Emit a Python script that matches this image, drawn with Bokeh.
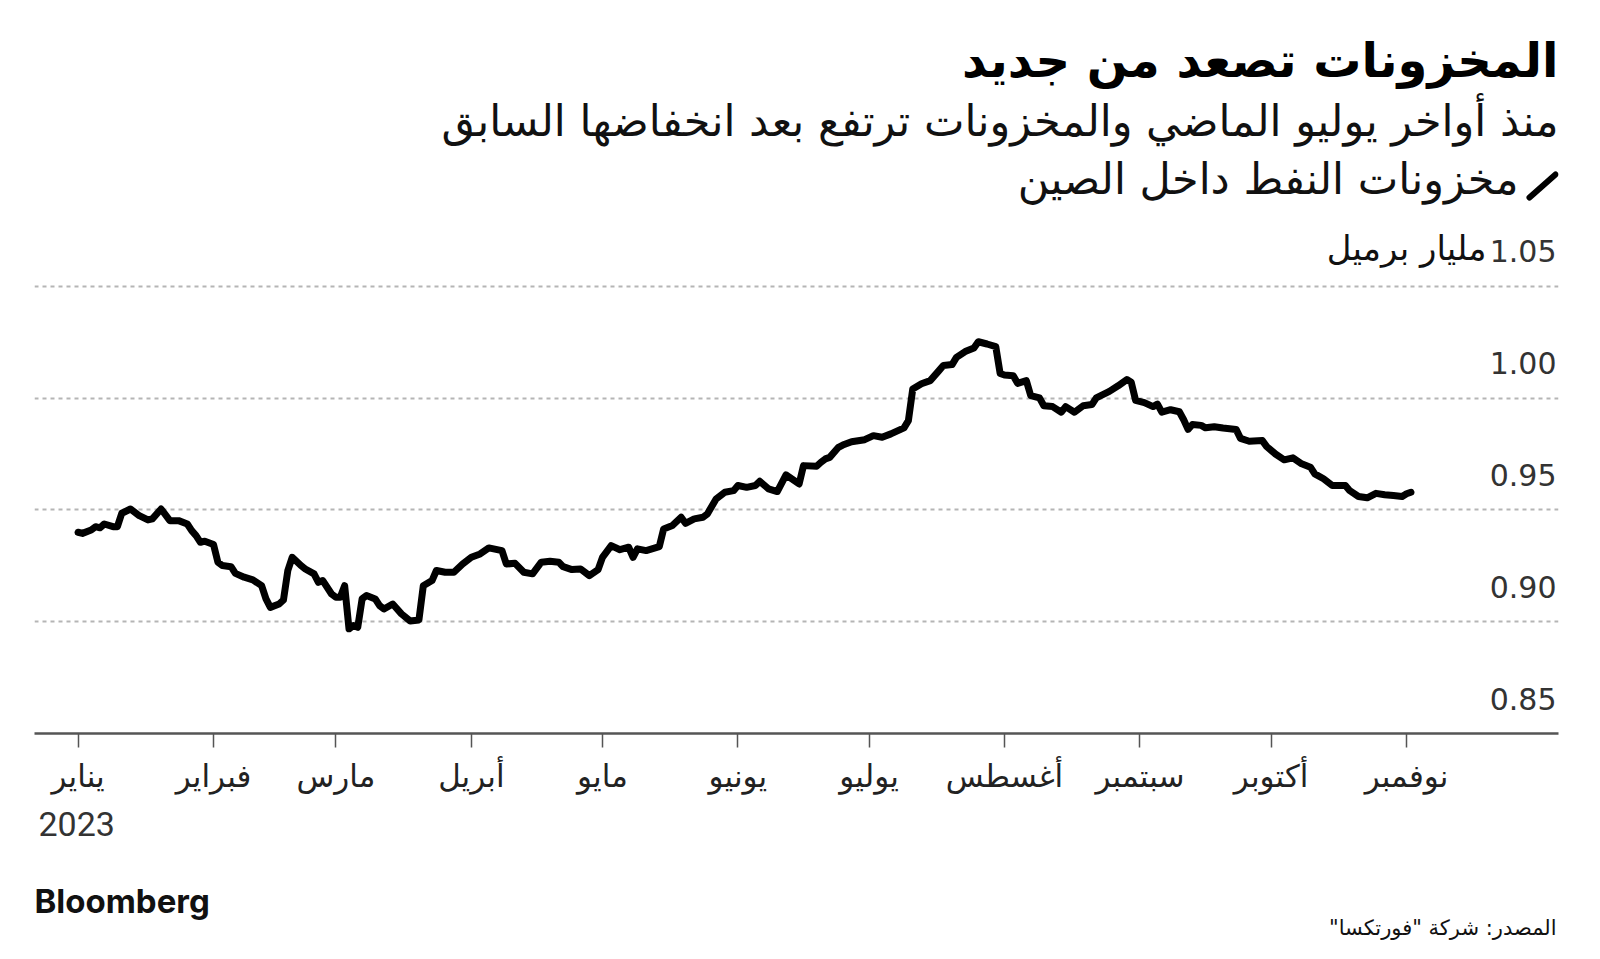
import pandas as pd
from bokeh.plotting import figure
from bokeh.layouts import column
from bokeh.models import (Range1d, FixedTicker, Grid, Label, Arrow, ColumnDataSource, Title)
from bokeh.core.properties import value
from bokeh.embed import file_html
from bokeh.resources import INLINE

# ---------------- data ----------------
dates = [
    "2023-01-01", "2023-01-02", "2023-01-04", "2023-01-05", "2023-01-06", "2023-01-07", "2023-01-09",
    "2023-01-10", "2023-01-11", "2023-01-13", "2023-01-15", "2023-01-17", "2023-01-18", "2023-01-20",
    "2023-01-22", "2023-01-24", "2023-01-26", "2023-01-27", "2023-01-28", "2023-01-29", "2023-01-30",
    "2023-02-01", "2023-02-02", "2023-02-03", "2023-02-05", "2023-02-06", "2023-02-08", "2023-02-10",
    "2023-02-12", "2023-02-13", "2023-02-14", "2023-02-16", "2023-02-17", "2023-02-18", "2023-02-19",
    "2023-02-21", "2023-02-22", "2023-02-24", "2023-02-25", "2023-02-26", "2023-02-28",
    "2023-03-01", "2023-03-02", "2023-03-03", "2023-03-04", "2023-03-05", "2023-03-06", "2023-03-07",
    "2023-03-08", "2023-03-10", "2023-03-11", "2023-03-12", "2023-03-14", "2023-03-16", "2023-03-18",
    "2023-03-20", "2023-03-21", "2023-03-23", "2023-03-24", "2023-03-26", "2023-03-28", "2023-03-30",
    "2023-04-01", "2023-04-03", "2023-04-05", "2023-04-08", "2023-04-09", "2023-04-11", "2023-04-13",
    "2023-04-15", "2023-04-17", "2023-04-19", "2023-04-21", "2023-04-22", "2023-04-24", "2023-04-26",
    "2023-04-28", "2023-04-30",
    "2023-05-01", "2023-05-03", "2023-05-05", "2023-05-07", "2023-05-08", "2023-05-09", "2023-05-11",
    "2023-05-14", "2023-05-15", "2023-05-17", "2023-05-19", "2023-05-20", "2023-05-22", "2023-05-24",
    "2023-05-25", "2023-05-27", "2023-05-29", "2023-05-31",
    "2023-06-01", "2023-06-03", "2023-06-05", "2023-06-06", "2023-06-08", "2023-06-10", "2023-06-12",
    "2023-06-15", "2023-06-16", "2023-06-19", "2023-06-20", "2023-06-21", "2023-06-22", "2023-06-24",
    "2023-06-25", "2023-06-27", "2023-06-30",
    "2023-07-02", "2023-07-04", "2023-07-06", "2023-07-09", "2023-07-10", "2023-07-11", "2023-07-13",
    "2023-07-15", "2023-07-17", "2023-07-18", "2023-07-20", "2023-07-21", "2023-07-23", "2023-07-25",
    "2023-07-26", "2023-07-28", "2023-07-30", "2023-07-31",
    "2023-08-01", "2023-08-03", "2023-08-04", "2023-08-06", "2023-08-07", "2023-08-09", "2023-08-10",
    "2023-08-12", "2023-08-14", "2023-08-15", "2023-08-17", "2023-08-19", "2023-08-21", "2023-08-22",
    "2023-08-25", "2023-08-27", "2023-08-29", "2023-08-30", "2023-08-31",
    "2023-09-02", "2023-09-04", "2023-09-05", "2023-09-06", "2023-09-08", "2023-09-10", "2023-09-11",
    "2023-09-12", "2023-09-13", "2023-09-15", "2023-09-16", "2023-09-18", "2023-09-20", "2023-09-23",
    "2023-09-24", "2023-09-26", "2023-09-29", "2023-09-30",
    "2023-10-02", "2023-10-04", "2023-10-06", "2023-10-08", "2023-10-10", "2023-10-11", "2023-10-13",
    "2023-10-15", "2023-10-18", "2023-10-19", "2023-10-21", "2023-10-23", "2023-10-24", "2023-10-25",
    "2023-10-27", "2023-10-29", "2023-10-31",
    "2023-11-01", "2023-11-02",
]

stocks = [
    0.940, 0.9395, 0.941, 0.9425, 0.942, 0.9437, 0.9425,
    0.9425, 0.9485, 0.9504, 0.9474, 0.9455, 0.946, 0.9504,
    0.9452, 0.9452, 0.9437, 0.9407, 0.9385, 0.9355, 0.936,
    0.9345, 0.9266, 0.9251, 0.9246, 0.9216, 0.9199, 0.9187,
    0.9161, 0.9102, 0.9064, 0.9079, 0.9097, 0.9229, 0.9288,
    0.9251, 0.9236, 0.9214, 0.9176, 0.9184, 0.9124,
    0.9109, 0.9109, 0.9161, 0.8968, 0.8983, 0.8975, 0.9102,
    0.9117, 0.9102, 0.9072, 0.9057, 0.9079, 0.9035, 0.9003,
    0.9008, 0.9161, 0.9184, 0.9229, 0.9221, 0.9221, 0.9258,
    0.9288, 0.9303, 0.933, 0.9318, 0.9258, 0.9261, 0.9221,
    0.9214, 0.9266, 0.927, 0.9266, 0.9246, 0.9233, 0.9236,
    0.9206, 0.9233,
    0.9288, 0.934, 0.9322, 0.9333, 0.9288, 0.9326, 0.9318,
    0.9336, 0.9415, 0.943, 0.9467, 0.944, 0.946, 0.9467,
    0.9482, 0.9549, 0.9579, 0.9586,
    0.9609, 0.9601, 0.9609, 0.9628, 0.9594, 0.9582, 0.9657,
    0.9616, 0.9698, 0.9695, 0.9713, 0.9728, 0.9735, 0.978,
    0.979, 0.9805, 0.9814,
    0.9832, 0.9825, 0.984, 0.9867, 0.9899, 1.0041, 1.0064,
    1.0078, 1.0123, 1.0146, 1.015, 1.0182, 1.0208, 1.0224,
    1.0252, 1.0242, 1.023, 1.011,
    1.0103, 1.010, 1.0066, 1.0078, 1.0011, 1.0001, 0.9966,
    0.9962, 0.9937, 0.9962, 0.9937, 0.9966, 0.9971, 1.0001,
    1.003, 1.0055, 1.0083, 1.0071, 0.999,
    0.998, 0.9962, 0.9973, 0.9937, 0.9948, 0.9939, 0.9903,
    0.986, 0.9882, 0.9878, 0.9867, 0.9872, 0.9866, 0.986,
    0.982, 0.9807, 0.981, 0.9783,
    0.975, 0.9724, 0.9733, 0.9706, 0.9691, 0.9661, 0.9639,
    0.9609, 0.9609, 0.9586, 0.956, 0.9554, 0.9564, 0.9574,
    0.9568, 0.9564, 0.956,
    0.9572, 0.9579,
]

month_starts = ["2023-01-01", "2023-02-01", "2023-03-01", "2023-04-01", "2023-05-01", "2023-06-01",
                "2023-07-01", "2023-08-01", "2023-09-01", "2023-10-01", "2023-11-01"]
month_labels = ["يناير", "فبراير", "مارس", "أبريل", "مايو", "يونيو",
                "يوليو", "أغسطس", "سبتمبر", "أكتوبر", "نوفمبر"]

y_ticks = [0.85, 0.90, 0.95, 1.00, 1.05]
y_tick_labels = ["0.85", "0.90", "0.95", "1.00", "1.05"]

title_text = "المخزونات تصعد من جديد"
subtitle_text = "منذ أواخر يوليو الماضي والمخزونات ترتفع بعد انخفاضها السابق"
legend_text = "مخزونات النفط داخل الصين"
unit_text = "مليار برميل"
year_text = "2023"
source_text = "\u200fالمصدر: شركة \"فورتكسا\"\u200f"
brand_text = "Bloomberg"

# ---------------- geometry ----------------
origin = pd.Timestamp("2023-01-01")
x_days = [(pd.Timestamp(d) - origin).days for d in dates]
tick_days = [(pd.Timestamp(d) - origin).days for d in month_starts]

W = 1600
H1, H2 = 880, 79                    # main chart + footer strip = 959
FL, FR, FB = 34, 1558, 733          # frame edges in pixels (frame top = 0)
XS, XE = -9.97, 338.77
PXV = 0.05 / 111.8                  # value per pixel
Y0 = 0.85
YT = Y0 + FB * PXV


def dx(px):
    return XS + (px - FL) * (XE - XS) / (FR - FL)


def dy(py):
    return Y0 + (FB - py) * PXV


AR = "DejaVu Sans"
BASE = 0.42  # empirical shift of the alphabetic anchor, in em

p = figure(width=W, height=H1, output_backend="svg", toolbar_location=None,
           x_range=Range1d(XS, XE), y_range=Range1d(Y0, YT),
           y_axis_location=None,
           min_border_left=FL, min_border_right=W - FR,
           min_border_top=0, min_border_bottom=H1 - FB)
p.outline_line_color = None
p.background_fill_color = "white"
p.border_fill_color = "white"
p.xgrid.visible = False
p.ygrid.visible = False

p.add_layout(Grid(dimension=1, ticker=FixedTicker(ticks=y_ticks[1:]),
                  grid_line_color="#b5b5b5", grid_line_width=2, grid_line_dash="4 4"))

ax = p.xaxis[0]
ax.ticker = FixedTicker(ticks=tick_days)
ax.major_label_overrides = {d: lab for d, lab in zip(tick_days, month_labels)}
ax.axis_line_color = "#555555"
ax.axis_line_width = 2.5
ax.major_tick_line_color = "#555555"
ax.major_tick_line_width = 1.5
ax.major_tick_out = 14
ax.major_tick_in = 0
ax.minor_tick_line_color = None
ax.major_label_standoff = 10
ax.major_label_text_font = AR
ax.major_label_text_font_size = "31px"
ax.major_label_text_color = "#222222"

src = ColumnDataSource(dict(x=x_days, y=stocks))
p.line("x", "y", source=src, line_color="black", line_width=7,
       line_join="round", line_cap="round")

ysrc = ColumnDataSource(dict(x=[XE] * len(y_ticks), y=y_ticks, t=y_tick_labels))
p.text("x", "y", text="t", source=ysrc, text_align="right", text_baseline="alphabetic",
       x_offset=-2, y_offset=-35, text_font=value(AR), text_font_size="30px",
       text_color="#333333")


def lab(text, px, py, fs, align="right", font=AR, style="normal", color="#111111"):
    p.add_layout(Label(x=dx(px), y=dy(py - BASE * fs), text=text,
                       text_align=align, text_baseline="alphabetic",
                       text_font=font, text_font_size=f"{fs}px", text_font_style=style,
                       text_color=color))


lab(title_text, FR, 80, 48, style="bold", color="#000000")
lab(subtitle_text, FR, 139, 43, color="#111111")
lab(legend_text, 1518, 197, 43, color="#111111")
lab(unit_text, 1486, 262, 34, color="#111111")

p.add_layout(Arrow(end=None, x_start=dx(1529), y_start=dy(197), x_end=dx(1555), y_end=dy(174),
                   line_color="black", line_width=6, line_cap="round"))

p.add_layout(Title(text=year_text, align="left", offset=4, standoff=26,
                   text_font="Roboto", text_font_size="34px", text_font_style="normal",
                   text_color="#333333"), "below")

# ---------------- footer strip (brand + source) ----------------
# the column aligns this strip's frame with the chart frame (FL..FR)
f = figure(width=W, height=H2, output_backend="svg", toolbar_location=None,
           x_range=Range1d(FL, FR), y_range=Range1d(0, H2),
           x_axis_location=None, y_axis_location=None,
           min_border_left=FL, min_border_right=W - FR, min_border_top=0, min_border_bottom=0)
f.outline_line_color = None
f.background_fill_color = "white"
f.border_fill_color = "white"
f.xgrid.visible = False
f.ygrid.visible = False


def flab(text, px, py_global, fs, align, font, style, color):
    local = py_global - H1
    f.add_layout(Label(x=px, y=H2 - (local - BASE * fs), text=text,
                       text_align=align, text_baseline="alphabetic",
                       text_font=font, text_font_size=f"{fs}px", text_font_style=style,
                       text_color=color))


flab(brand_text, FL, 914, 33, "left", "Inter", "bold", "#111111")
flab(source_text, 1556, 936, 21, "right", AR, "normal", "#111111")

open("out.html", "w").write(file_html(column(p, f, spacing=0), INLINE))
